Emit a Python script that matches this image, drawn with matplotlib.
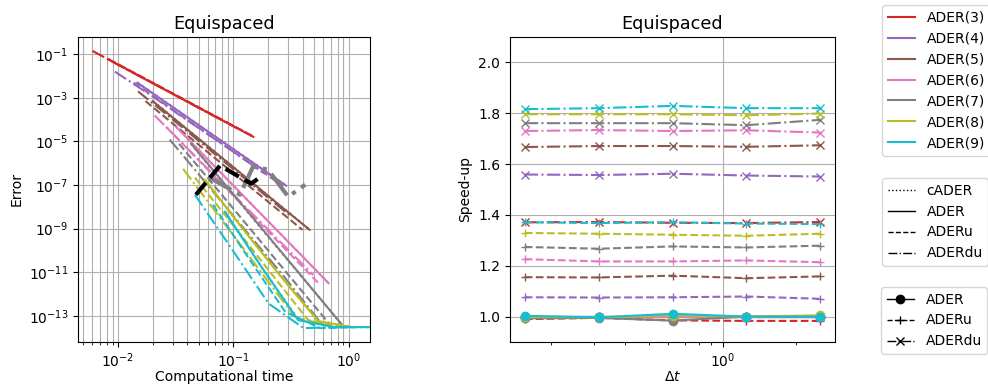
import matplotlib

matplotlib.use("Agg")
import matplotlib.pyplot as plt
from matplotlib.lines import Line2D


orders = [3, 4, 5, 6, 7, 8, 9]
colors = ["tab:red", "tab:purple", "tab:brown", "tab:pink", "tab:gray", "tab:olive", "tab:cyan"]

# left panel: error vs computational time, one row per order
time_cader = [
    [0.0083, 0.0170, 0.0350, 0.0724, 0.150],
    [0.0148, 0.0310, 0.0650, 0.1370, 0.288],
    [0.0201, 0.0440, 0.0962, 0.2100, 0.460],
    [0.0320, 0.0684, 0.1465, 0.314, 0.672],
    [0.0428, 0.0918, 0.195, 0.423, 0.905],
    [0.0566, 0.1187, 0.256, 0.545, 1.082],
    [0.0850, 0.1775, 0.369, 0.751, 1.545],
]
time_ader = [
    [0.0082, 0.0169, 0.0349, 0.0722, 0.149],
    [0.0147, 0.0309, 0.0649, 0.1365, 0.287],
    [0.0200, 0.0438, 0.0959, 0.2094, 0.458],
    [0.0319, 0.0682, 0.146, 0.313, 0.670],
    [0.0431, 0.0923, 0.198, 0.423, 0.905],
    [0.0567, 0.119, 0.255, 0.545, 1.077],
    [0.0847, 0.178, 0.365, 0.751, 1.545],
]
time_aderu = [
    [0.0083, 0.0172, 0.0355, 0.0733, 0.151],
    [0.0137, 0.0287, 0.0604, 0.127, 0.267],
    [0.0173, 0.0379, 0.0830, 0.1813, 0.397],
    [0.0261, 0.0559, 0.120, 0.256, 0.549],
    [0.0339, 0.0727, 0.156, 0.333, 0.713],
    [0.0464, 0.0975, 0.2086, 0.446, 0.900],
    [0.0666, 0.137, 0.282, 0.567, 1.164],
]
time_aderdu = [
    [0.0060, 0.0123, 0.0255, 0.0527, 0.109],
    [0.0094, 0.0198, 0.0416, 0.0875, 0.184],
    [0.0149, 0.0319, 0.0682, 0.1456, 0.311],
    [0.0208, 0.0459, 0.1014, 0.2234, 0.493],
    [0.0281, 0.0601, 0.1285, 0.275, 0.587],
    [0.0367, 0.0766, 0.161, 0.337, 0.693],
    [0.0464, 0.0966, 0.2015, 0.406, 0.814],
]
err_ader = [
    [5.9e-2, 7.6e-3, 9.8e-4, 1.26e-4, 1.63e-5],
    [5.0e-3, 3.3e-4, 2.17e-5, 1.42e-6, 9.3e-8],
    [7.1e-4, 2.36e-5, 7.9e-7, 2.63e-8, 8.8e-10],
    [4.7e-5, 7.5e-7, 1.2e-8, 1.93e-10, 3.1e-12],
    [7.8e-6, 6.2e-8, 4.9e-10, 3.9e-12, 3.1e-14],
    [1.76e-7, 1.08e-9, 6.8e-12, 5.6e-14, 3.0e-14],
    [5.9e-9, 1.55e-11, 6.3e-14, 3.0e-14, 3.0e-14],
]
err_aderu = [
    [5.9e-2, 7.6e-3, 9.8e-4, 1.26e-4, 1.63e-5],
    [5.0e-3, 3.3e-4, 2.17e-5, 1.42e-6, 9.3e-8],
    [7.1e-4, 2.36e-5, 7.9e-7, 2.63e-8, 8.8e-10],
    [4.7e-5, 7.5e-7, 1.2e-8, 1.93e-10, 3.1e-12],
    [7.8e-6, 6.2e-8, 4.9e-10, 3.9e-12, 3.1e-14],
    [2.2e-7, 1.66e-9, 1.0e-11, 6.3e-14, 3.0e-14],
    [1.24e-8, 4.1e-11, 1.5e-13, 2.7e-14, 3.0e-14],
]
err_aderdu = [
    [1.44e-1, 1.86e-2, 2.4e-3, 3.0e-4, 3.9e-5],
    [1.6e-2, 1.2e-3, 8.0e-5, 5.5e-6, 3.5e-7],
    [2.0e-3, 7.6e-5, 2.8e-6, 1.05e-7, 3.9e-9],
    [1.55e-4, 2.3e-6, 3.4e-8, 5.0e-10, 7.4e-12],
    [1.22e-5, 9.8e-8, 7.8e-10, 6.2e-12, 4.0e-14],
    [5.5e-7, 3.2e-9, 1.74e-11, 9.6e-14, 3.0e-14],
    [3.6e-8, 1.2e-10, 3.7e-13, 2.7e-14, 3.0e-14],
]

# the two thick guide polylines in the left panel
guide_black_t = [0.0474, 0.0766, 0.1426, 0.178]
guide_black_e = [3.6e-8, 7.8e-7, 1.15e-7, 2.7e-7]
guide_gray_t = [0.0603, 0.1143, 0.148, 0.200, 0.299, 0.42]
guide_gray_e = [2.4e-7, 3.6e-8, 7.0e-7, 5.1e-7, 2.9e-8, 1.04e-7]

# right panel: speed-up vs dt
dt = [0.15625, 0.3125, 0.625, 1.25, 2.5]
speedup_ader = [
    [1.000, 1.000, 1.000, 1.000, 1.000],
    [1.000, 1.000, 1.000, 1.000, 1.000],
    [1.000, 1.000, 1.000, 1.000, 1.000],
    [1.000, 1.000, 1.000, 1.000, 1.000],
    [0.993, 0.995, 0.984, 1.000, 1.000],
    [0.998, 0.997, 1.004, 1.000, 1.005],
    [1.003, 0.997, 1.011, 1.000, 1.000],
]
speedup_aderu = [
    [0.990, 0.995, 0.985, 0.983, 0.983],
    [1.076, 1.075, 1.076, 1.079, 1.070],
    [1.155, 1.154, 1.161, 1.151, 1.158],
    [1.226, 1.217, 1.217, 1.221, 1.214],
    [1.274, 1.267, 1.276, 1.272, 1.279],
    [1.329, 1.326, 1.322, 1.318, 1.326],
    [1.371, 1.368, 1.371, 1.366, 1.364],
]
speedup_aderdu = [
    [1.371, 1.372, 1.369, 1.368, 1.372],
    [1.559, 1.557, 1.562, 1.555, 1.551],
    [1.667, 1.671, 1.671, 1.668, 1.674],
    [1.730, 1.734, 1.730, 1.733, 1.724],
    [1.761, 1.761, 1.761, 1.753, 1.774],
    [1.796, 1.796, 1.796, 1.792, 1.799],
    [1.816, 1.820, 1.829, 1.820, 1.820],
]


def draw_error(ax):
    for i, color in enumerate(colors):
        ax.loglog(time_cader[i], err_ader[i], ":", color=color)
        ax.loglog(time_ader[i], err_ader[i], "-", color=color)
        ax.loglog(time_aderu[i], err_aderu[i], "--", color=color)
        ax.loglog(time_aderdu[i], err_aderdu[i], "-.", color=color)
    ax.loglog(guide_gray_t, guide_gray_e, "-.", color="gray", lw=3)
    ax.loglog(guide_black_t, guide_black_e, "--", color="k", lw=3)
    ax.set_xlim(0.0045, 1.53)
    ax.set_title("Equispaced", fontsize=12.7)
    ax.set_xlabel("Computational time", labelpad=0)
    ax.set_ylabel("Error")
    ax.grid(True, which="both")


def draw_speedup(ax):
    for i, color in enumerate(colors):
        ax.semilogx(dt, speedup_ader[i], "-o", color=color)
        ax.semilogx(dt, speedup_aderu[i], "--+", color=color)
        ax.semilogx(dt, speedup_aderdu[i], "-.x", color=color)
    ax.set_ylim(0.9, 2.1)
    ax.set_title("Equispaced", fontsize=12.7)
    ax.set_xlabel(r"$\Delta t$", labelpad=0)
    ax.set_ylabel("Speed-up")
    ax.grid(True)


def add_legends(fig):
    order_handles = [Line2D([], [], color=c) for c in colors]
    order_labels = [f"ADER({p})" for p in orders]
    fig.legend(order_handles, order_labels, loc="upper left",
               bbox_to_anchor=(882 / 988, 1 - 5 / 385), borderaxespad=0)

    style_handles = [Line2D([], [], color="k", ls=ls, lw=1) for ls in [":", "-", "--", "-."]]
    fig.legend(style_handles, ["cADER", "ADER", "ADERu", "ADERdu"], loc="upper left",
               bbox_to_anchor=(882 / 988, 1 - 178 / 385), borderaxespad=0)

    marker_handles = [Line2D([], [], color="k", ls=ls, marker=m, lw=1)
                      for ls, m in [("-", "o"), ("--", "+"), ("-.", "x")]]
    fig.legend(marker_handles, ["ADER", "ADERu", "ADERdu"], loc="upper left",
               bbox_to_anchor=(881 / 988, 1 - 287 / 385), borderaxespad=0)


def main():
    fig = plt.figure(figsize=(9.88, 3.85), dpi=100)
    ax_err = fig.add_axes([78 / 988, 43 / 385, 292 / 988, 305 / 385])
    ax_spd = fig.add_axes([510 / 988, 43 / 385, 325 / 988, 305 / 385])
    draw_error(ax_err)
    draw_speedup(ax_spd)
    add_legends(fig)
    fig.savefig("out.png", dpi=100)
    plt.close(fig)


if __name__ == "__main__":
    main()
